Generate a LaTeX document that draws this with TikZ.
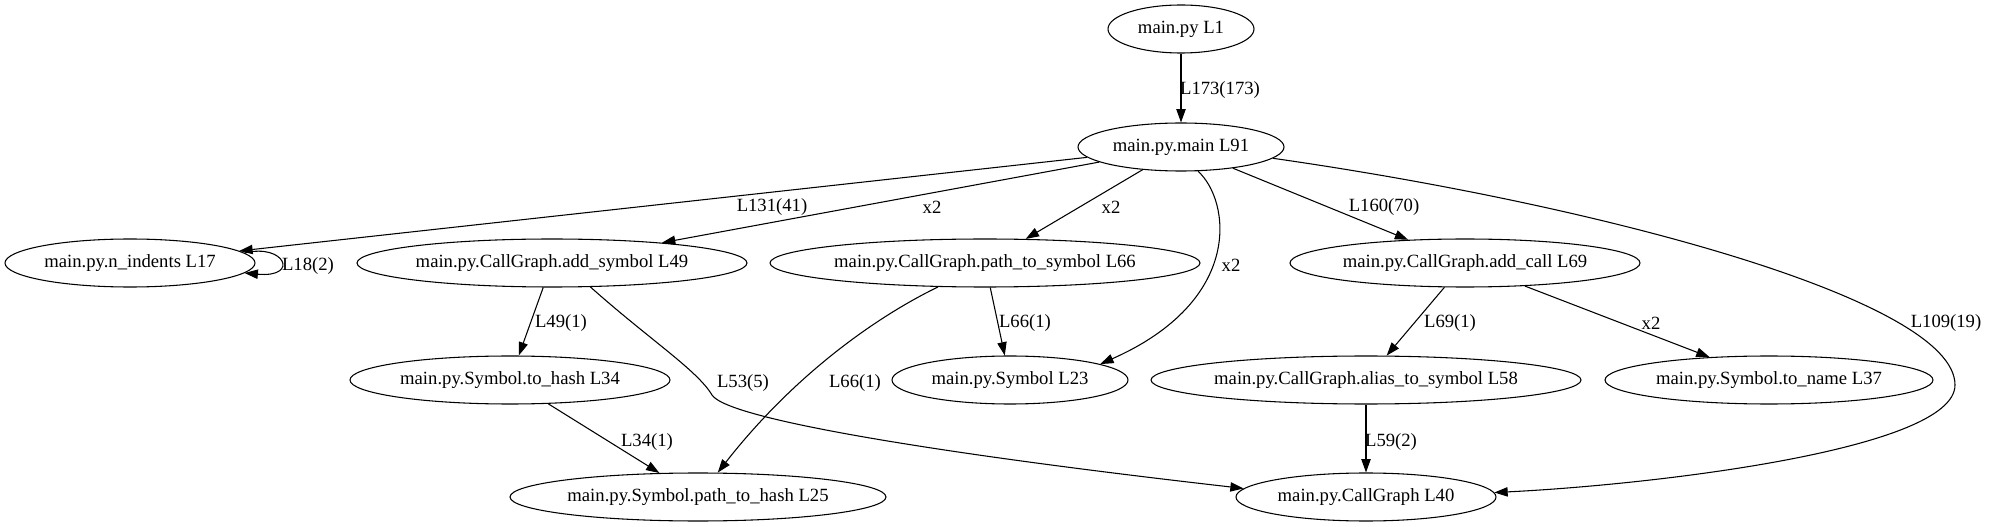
\documentclass[tikz,border=0pt]{standalone}
\usepackage{fontspec}
\setmainfont{Liberation Serif}
\usetikzlibrary{shapes.geometric,arrows.meta}
\begin{document}
\begin{tikzpicture}[x=0.75pt,y=-0.75pt,
  font=\fontsize{14}{16}\selectfont,
  gnode/.style={draw, ellipse, line width=0.8pt, inner sep=0pt, minimum height=36pt},
  elab/.style={inner sep=0pt},
  conn/.style={line width=0.8pt, -{Triangle[length=10pt,width=7pt]}}]
\useasboundingbox (0,0) rectangle (1993,527);
% nodes
\node[gnode, minimum width=109.5pt, label={center:main.py L1}] (n1) at (1181,29) {};
\node[gnode, minimum width=154.5pt, label={center:main.py.main L91}] (main) at (1181,147) {};
\node[gnode, minimum width=187.5pt, label={center:main.py.n\_indents L17}] (nind) at (130,263) {};
\node[gnode, minimum width=292.5pt, label={center:main.py.CallGraph.add\_symbol L49}] (addsym) at (552,263) {};
\node[gnode, minimum width=322.5pt, label={center:main.py.CallGraph.path\_to\_symbol L66}] (p2s) at (985,263) {};
\node[gnode, minimum width=262.5pt, label={center:main.py.CallGraph.add\_call L69}] (addcall) at (1465,263) {};
\node[gnode, minimum width=240pt, label={center:main.py.Symbol.to\_hash L34}] (tohash) at (510,380) {};
\node[gnode, minimum width=177pt, label={center:main.py.Symbol L23}] (sym) at (1010,380) {};
\node[gnode, minimum width=322.5pt, label={center:main.py.CallGraph.alias\_to\_symbol L58}] (alias) at (1366,380) {};
\node[gnode, minimum width=246pt, label={center:main.py.Symbol.to\_name L37}] (toname) at (1769,380) {};
\node[gnode, minimum width=282pt, label={center:main.py.Symbol.path\_to\_hash L25}] (p2h) at (698,497) {};
\node[gnode, minimum width=195pt, label={center:main.py.CallGraph L40}] (cg) at (1366,497) {};
\coordinate (r109) at (1955,385);
\coordinate (b53) at (712,395);
% edges
\draw[conn] (n1) -- (main);
\draw[conn] (main) -- (nind);
\draw[conn] (main) -- (addsym);
\draw[conn] (main) -- (p2s);
\draw[conn] (main.-55) .. controls (1230,200) and (1245,300) .. (sym.10);
\draw[conn] (main) -- (addcall);
\draw[conn] (main.-7) .. controls (1600,205) and (1955,300) .. (r109) .. controls (1955,450) and (1650,485) .. (cg.2);
\draw[conn] (nind.5) .. controls (285,243) and (300,278) .. (nind.-5);
\draw[conn] (addsym) -- (tohash);
\draw[conn] (addsym.-32) .. controls (650,340) and (697,370) .. (b53) .. controls (728,420) and (950,455) .. (cg.176);
\draw[conn] (p2s.207) .. controls (870,320) and (790,380) .. (p2h.51);
\draw[conn] (p2s) -- (sym);
\draw[conn] (tohash) -- (p2h);
\draw[conn] (addcall) -- (alias);
\draw[conn] (addcall) -- (toname);
\draw[conn] (alias) -- (cg);
% edge labels
\node[elab] (l173) at (1220,90) {L173(173)};
\node[elab] (l131) at (772,207) {L131(41)};
\node[elab] (lx2a) at (932,207) {x2};
\node[elab] (lx2b) at (1111,207) {x2};
\node[elab] (lx2c) at (1231,265) {x2};
\node[elab] (l160) at (1384,207) {L160(70)};
\node[elab] (l109) at (1946,323) {L109(19)};
\node[elab] (l18) at (308,266) {L18(2)};
\node[elab] (l49) at (561,323) {L49(1)};
\node[elab] (l53) at (743,383) {L53(5)};
\node[elab] (l66a) at (855,383) {L66(1)};
\node[elab] (l66b) at (1025,323) {L66(1)};
\node[elab] (l34) at (647,442) {L34(1)};
\node[elab] (l69) at (1450,323) {L69(1)};
\node[elab] (lx2d) at (1651,323) {x2};
\node[elab] (l59) at (1391,442) {L59(2)};
\end{tikzpicture}
\end{document}
